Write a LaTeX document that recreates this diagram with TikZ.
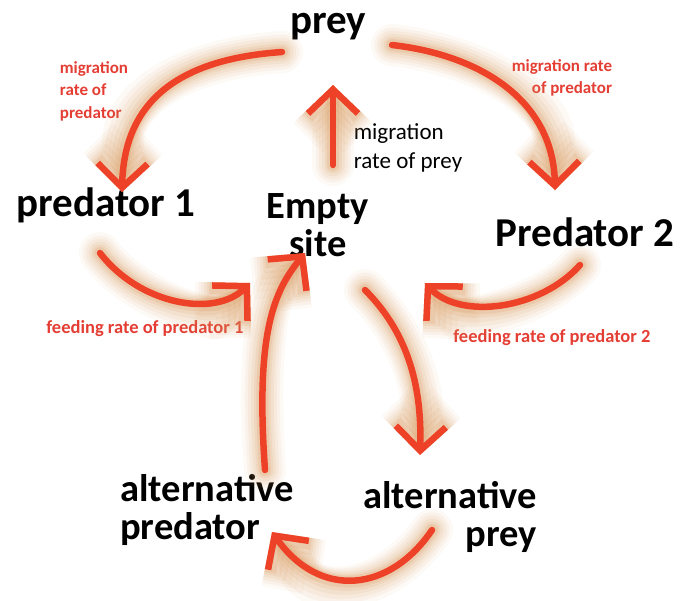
\documentclass[tikz,border=0pt]{standalone}
\usepackage{fontspec}
\setmainfont{Carlito}
\usetikzlibrary{arrows.meta,calc}

\definecolor{arrowred}{RGB}{238,66,40}
\definecolor{labelred}{RGB}{228,62,52}
\definecolor{glowtan}{RGB}{214,150,88}

\tikzset{
  species/.style={font=\bfseries\fontsize{41}{39}\selectfont, inner sep=2pt},
  altspecies/.style={font=\bfseries\fontsize{38.5}{38}\selectfont, inner sep=2pt},
  rate/.style={font=\bfseries\fontsize{17}{22.5}\selectfont, text=labelred, inner sep=1pt},
  feed/.style={font=\bfseries\fontsize{18.5}{22}\selectfont, text=labelred, inner sep=1pt},
  tip/.style={-{Straight Barb[length=24pt,width=50pt]}},
  halo/.style={draw=glowtan, line cap=round, line join=round, tip},
  flow/.style={draw=arrowred, line width=6.5pt, tip, line cap=round, line join=round,
    preaction={halo, opacity=.06, line width=42pt},
    preaction={halo, opacity=.07, line width=35pt},
    preaction={halo, opacity=.09, line width=29pt},
    preaction={halo, opacity=.11, line width=23pt},
    preaction={halo, opacity=.14, line width=17pt},
    preaction={halo, opacity=.18, line width=12pt}}
}

\begin{document}
\begin{tikzpicture}[x=1pt,y=-1pt]
\useasboundingbox (0,0) rectangle (687,600);

% species
\node[species] (prey) at (328,27) {prey};
\node[species] (pred1) at (106,205) {predator 1};
\node[altspecies, align=center] (empty) at (318,225) {Empty\\site};
\node[species] (pred2) at (585,232) {Predator 2};
\node[altspecies, align=left] (altpred) at (207,510) {alternative\\predator};
\node[altspecies, align=right] (altprey) at (450,517) {alternative\\prey};

% rates
\node[rate, align=left] (mig1) at (94,91) {migration\\rate of\\predator};
\node[rate, align=right] (mig2) at (562,78) {migration rate\\of predator};
\node[font=\fontsize{23}{29}\selectfont, align=left, inner sep=1pt] (migprey) at (408,148) {migration\\rate of prey};
\node[feed] (feed1) at (145,329) {feeding rate of predator 1};
\node[feed] (feed2) at (552,338) {feeding rate of predator 2};

% flows
\draw[flow] ($(prey)+(-46,25)$) .. controls (180,59) and (124,100) .. ($(pred1)+(16,-13)$);
\draw[flow] ($(prey)+(64,18)$) .. controls (480,55) and (553,100) .. ($(pred2)+(-30,-42)$);
\draw[flow] ($(empty)+(15,-60)$) -- ($(prey)+(5,58)$);
\draw[flow] ($(pred1)+(-6,48)$) .. controls (140,305) and (215,318) .. ($(empty)+(-68,58)$);
\draw[flow] ($(pred2)+(-5,33)$) .. controls (540,310) and (460,320) .. ($(empty)+(107,58)$);
\draw[flow] ($(altpred)+(58,-40)$) .. controls (255,330) and (275,290) .. ($(empty)+(-13,28)$);
\draw[flow] ($(empty)+(47,65)$) .. controls (410,335) and (422,390) .. ($(altprey)+(-30,-62)$);
\draw[flow] ($(altprey)+(-18,13)$) .. controls (390,592) and (320,600) .. ($(altpred)+(65,22)$);
\end{tikzpicture}
\end{document}
